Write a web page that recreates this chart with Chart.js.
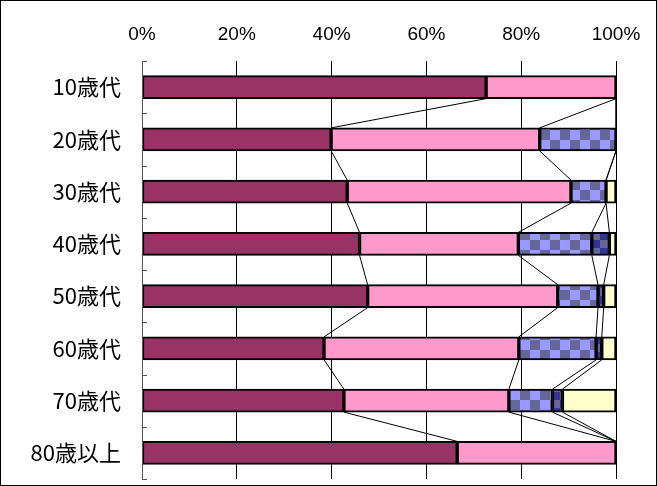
<!DOCTYPE html>
<html><head><meta charset="utf-8">
<script src="https://cdn.jsdelivr.net/npm/chart.js@4/dist/chart.umd.min.js"></script>
<style>html,body{margin:0;padding:0;background:#fff}</style>
</head><body>
<canvas id="c" width="657" height="486" style="display:block"></canvas>
<script>
const categories = ["10歳代","20歳代","30歳代","40歳代","50歳代","60歳代","70歳代","80歳以上"];
const seriesA = [72.6, 39.9, 43.3, 45.9, 47.6, 38.4, 42.6, 66.5];
const seriesB = [27.4, 44.0, 47.2, 33.5, 40.1, 41.1, 34.8, 33.5];
const seriesC = [0, 16.1, 7.4, 15.5, 8.5, 16.3, 9.2, 0];
const seriesD = [0, 0, 0, 3.7, 1.2, 1.2, 2.1, 0];
const seriesE = [0, 0, 2.1, 1.4, 2.6, 3.0, 11.3, 0];
const xTicks = [0, 20, 40, 60, 80, 100];

function checker(c1, c2, s) {
  const p = document.createElement('canvas');
  p.width = s * 2; p.height = s * 2;
  const g = p.getContext('2d');
  g.fillStyle = c1; g.fillRect(0, 0, s * 2, s * 2);
  g.fillStyle = c2; g.fillRect(s, 0, s, s); g.fillRect(0, s, s, s);
  return g.createPattern(p, 'repeat');
}
const ctx = document.getElementById('c').getContext('2d');
const patC = checker('#9999FF', '#666699', 10);
const patD = checker('#333399', '#666699', 8);

const allSeries = [seriesA, seriesB, seriesC, seriesD, seriesE];
const fills = ['#993366', '#FF99CC', patC, patD, '#FFFFCC'];

const seriesLines = {
  id: 'seriesLines',
  afterDatasetsDraw(chart) {
    const meta = chart.getDatasetMeta(0);
    const xs = chart.scales.x;
    const c = chart.ctx;
    c.save();
    c.strokeStyle = '#000';
    c.lineWidth = 1;
    for (let s = 0; s < allSeries.length - 1; s++) {
      for (let i = 0; i < categories.length - 1; i++) {
        let cum1 = 0, cum2 = 0;
        for (let k = 0; k <= s; k++) { cum1 += allSeries[k][i]; cum2 += allSeries[k][i + 1]; }
        cum1 = Math.min(cum1, 100); cum2 = Math.min(cum2, 100);
        const b1 = meta.data[i], b2 = meta.data[i + 1];
        const y1 = b1.y + b1.height / 2, y2 = b2.y - b2.height / 2;
        c.beginPath();
        c.moveTo(xs.getPixelForValue(cum1), y1);
        c.lineTo(xs.getPixelForValue(cum2), y2);
        c.stroke();
      }
    }
    c.restore();
  },
  afterDraw(chart) {
    const c = chart.ctx, a = chart.chartArea;
    c.save();
    c.strokeStyle = '#555';
    c.lineWidth = 1;
    c.beginPath();
    c.moveTo(Math.round(a.left) + 0.5, a.top);
    c.lineTo(Math.round(a.left) + 0.5, a.bottom);
    const step = (a.bottom - a.top) / categories.length;
    for (let i = 0; i <= categories.length; i++) {
      const y = Math.round(a.top + i * step) + 0.5;
      c.moveTo(a.left, y); c.lineTo(a.left + 5, y);
    }
    c.stroke();
    c.strokeStyle = '#000';
    c.strokeRect(0.5, 0.5, chart.width - 1, chart.height - 1);
    c.restore();
  }
};

new Chart(ctx, {
  type: 'bar',
  data: {
    labels: categories,
    datasets: allSeries.map((arr, idx) => ({
      data: arr.map(v => v === 0 ? null : v),
      backgroundColor: fills[idx],
      borderColor: '#000',
      borderWidth: 2,
      borderSkipped: false,
      barThickness: 23
    }))
  },
  options: {
    indexAxis: 'y',
    responsive: false,
    animation: false,
    devicePixelRatio: 1,
    layout: { padding: { left: 0, top: 0, right: 41, bottom: 7 } },
    plugins: { legend: { display: false }, tooltip: { enabled: false } },
    scales: {
      x: {
        position: 'top',
        stacked: true,
        min: 0, max: 100,
        afterBuildTicks(scale) { scale.ticks = xTicks.map(v => ({ value: v })); },
        afterFit(scale) { scale.height = 61; scale.paddingLeft = 0; scale.paddingRight = 0; },
        ticks: {
          callback: v => v + '%',
          color: '#000',
          padding: 15,
          font: { family: 'Liberation Sans, Arial, sans-serif', size: 19 }
        },
        grid: { color: '#000', lineWidth: 1, drawTicks: false },
        border: { display: false }
      },
      y: {
        stacked: true,
        afterFit(scale) { scale.width = 142; scale.paddingTop = 0; scale.paddingBottom = 0; },
        ticks: {
          color: '#000',
          padding: 21,
          font: { family: '"Noto Sans CJK JP", sans-serif', size: 22 }
        },
        grid: { display: false, drawTicks: false },
        border: { display: false }
      }
    }
  },
  plugins: [seriesLines]
});
</script>
</body></html>
